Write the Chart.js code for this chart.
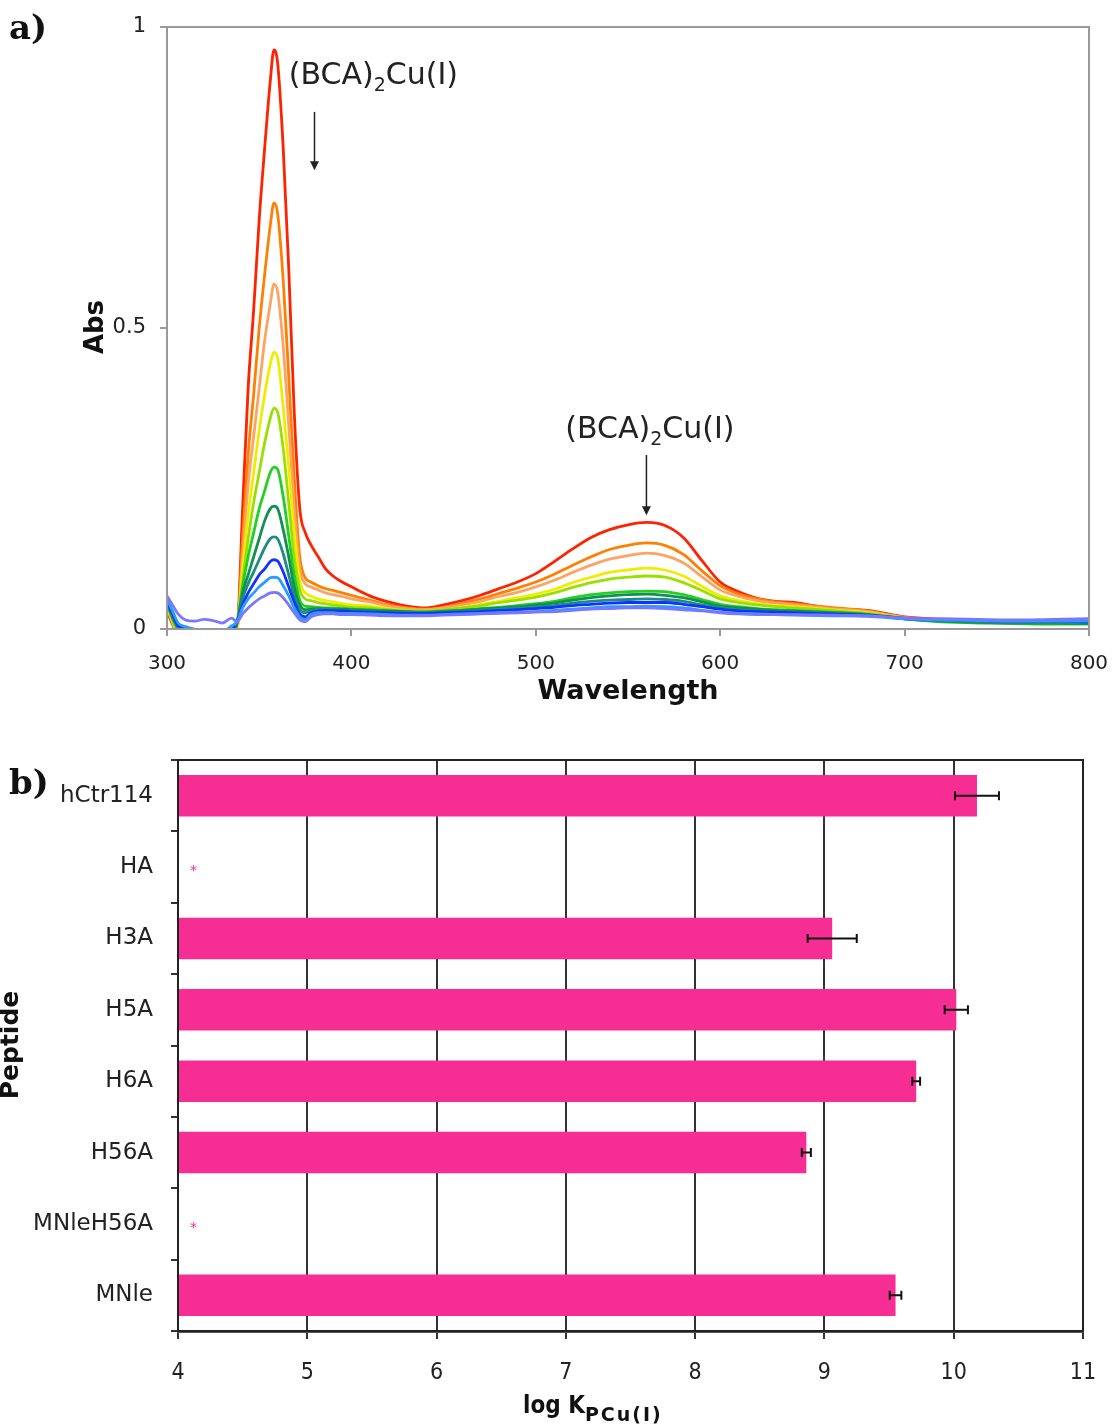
<!DOCTYPE html>
<html>
<head>
<meta charset="utf-8">
<script src="https://cdn.jsdelivr.net/npm/chart.js@4.4.1/dist/chart.umd.min.js"></script>
<style>
  body { margin: 0; width: 1113px; height: 1427px; position: relative; background: #fff; overflow: hidden; font-family: "DejaVu Sans", sans-serif; color: #111; }
  .box { position: absolute; left: 0; width: 1113px; }
  .panel { position: absolute; font: bold 34px "DejaVu Serif", serif; }
  .title { position: absolute; font-weight: bold; white-space: nowrap; }
  .rot { width: 240px; text-align: center; transform: rotate(-90deg); }
</style>
</head>
<body>
<div class="box" style="top:0; height:710px"><canvas id="spectra"></canvas></div>
<div class="box" style="top:720px; height:707px"><canvas id="bars"></canvas></div>

<div class="panel" style="left:9px; top:7px">a)</div>
<div class="panel" style="left:9px; top:762px">b)</div>
<div class="title rot" style="left:-26px; top:312px; font-size:26px; line-height:30px">Abs</div>
<div class="title" style="left:0; width:1256px; text-align:center; top:674px; font-size:27px">Wavelength</div>
<div class="title rot" style="left:-110px; top:1030px; font-size:25px; line-height:30px">Peptide</div>
<div class="title" style="left:523px; top:1391px; font-size:24px; font-family:'DejaVu Sans Condensed','DejaVu Sans',sans-serif">log K<sub style="font-size:19px; font-family:'DejaVu Sans',sans-serif; position:relative; top:2px; letter-spacing:2px">PCu(I)</sub></div>

<script>
// ---- a) absorbance spectra ----
const wavelengths = [300, 303, 306, 310, 315, 320, 325, 330, 335,
  338, 341, 344, 347, 350, 353, 356, 358,
  360, 363, 366, 369, 372, 375, 378, 382, 386, 390, 395, 400,
  410, 420, 430, 440, 450, 460, 470, 480, 490, 500, 510, 520, 530, 540, 550, 560, 570, 580, 590, 600, 610, 620, 630, 640,
  660, 680, 700, 720, 740, 760, 780, 800];

const absRed = [0.030, 0.008, -0.010, -0.010, -0.010, -0.010, -0.010, -0.010, -0.010,
  0.000, 0.200, 0.400, 0.530, 0.680, 0.800, 0.910, 0.962,
  0.940, 0.800, 0.600, 0.360, 0.200, 0.160, 0.140, 0.120, 0.100, 0.088, 0.078, 0.070,
  0.055, 0.045, 0.038, 0.035, 0.040, 0.047, 0.056, 0.067, 0.078, 0.092, 0.112, 0.133, 0.152, 0.165, 0.173, 0.177, 0.172, 0.152, 0.114, 0.078, 0.062, 0.051, 0.046, 0.044,
  0.034, 0.031, 0.020, 0.016, 0.014, 0.012, 0.012, 0.011];
const absOrange = [0.035, 0.010, -0.010, -0.010, -0.010, -0.010, -0.010, -0.010, -0.010,
  0.000, 0.150, 0.290, 0.390, 0.500, 0.590, 0.670, 0.708,
  0.690, 0.580, 0.420, 0.250, 0.120, 0.085, 0.078, 0.072, 0.067, 0.064, 0.060, 0.056,
  0.048, 0.040, 0.035, 0.033, 0.036, 0.043, 0.050, 0.059, 0.068, 0.078, 0.091, 0.106, 0.120, 0.132, 0.139, 0.143, 0.139, 0.124, 0.097, 0.072, 0.058, 0.050, 0.045, 0.042,
  0.036, 0.030, 0.019, 0.015, 0.013, 0.012, 0.011, 0.011];
const absSalmon = [0.035, 0.012, -0.010, -0.010, -0.010, -0.010, -0.010, -0.010, -0.010,
  0.000, 0.120, 0.240, 0.320, 0.400, 0.480, 0.540, 0.573,
  0.560, 0.470, 0.340, 0.200, 0.100, 0.075, 0.070, 0.065, 0.060, 0.057, 0.054, 0.050,
  0.045, 0.038, 0.034, 0.032, 0.035, 0.040, 0.046, 0.054, 0.061, 0.070, 0.081, 0.094, 0.106, 0.116, 0.122, 0.126, 0.122, 0.110, 0.087, 0.065, 0.054, 0.047, 0.043, 0.040,
  0.034, 0.029, 0.019, 0.015, 0.013, 0.012, 0.011, 0.010];
const absYellow = [0.038, 0.013, -0.005, -0.010, -0.010, -0.010, -0.010, -0.010, -0.010,
  0.000, 0.100, 0.190, 0.260, 0.330, 0.390, 0.440, 0.460,
  0.450, 0.370, 0.270, 0.160, 0.080, 0.060, 0.055, 0.050, 0.047, 0.045, 0.042, 0.040,
  0.038, 0.034, 0.031, 0.030, 0.032, 0.036, 0.041, 0.046, 0.052, 0.058, 0.066, 0.077, 0.086, 0.094, 0.098, 0.101, 0.098, 0.088, 0.071, 0.055, 0.047, 0.042, 0.039, 0.037,
  0.032, 0.027, 0.018, 0.014, 0.012, 0.011, 0.010, 0.010];
const absLime = [0.040, 0.015, -0.005, -0.010, -0.010, -0.010, -0.010, -0.010, -0.010,
  0.010, 0.080, 0.150, 0.210, 0.260, 0.310, 0.350, 0.367,
  0.360, 0.300, 0.210, 0.120, 0.065, 0.050, 0.047, 0.044, 0.042, 0.040, 0.038, 0.036,
  0.035, 0.032, 0.030, 0.030, 0.032, 0.035, 0.039, 0.044, 0.048, 0.053, 0.060, 0.069, 0.077, 0.083, 0.086, 0.088, 0.086, 0.077, 0.064, 0.050, 0.044, 0.040, 0.037, 0.035,
  0.031, 0.026, 0.018, 0.013, 0.011, 0.010, 0.009, 0.009];
const absGreen = [0.042, 0.018, 0.000, -0.005, -0.010, -0.010, -0.010, -0.010, -0.010,
  0.010, 0.070, 0.120, 0.160, 0.200, 0.230, 0.260, 0.269,
  0.265, 0.220, 0.155, 0.090, 0.048, 0.038, 0.037, 0.036, 0.035, 0.035, 0.034, 0.033,
  0.032, 0.030, 0.029, 0.028, 0.030, 0.031, 0.034, 0.036, 0.039, 0.042, 0.046, 0.052, 0.057, 0.060, 0.062, 0.063, 0.062, 0.057, 0.049, 0.041, 0.037, 0.034, 0.032, 0.031,
  0.028, 0.024, 0.017, 0.012, 0.010, 0.009, 0.008, 0.008];
const absDarkGreen = [0.044, 0.020, 0.002, -0.005, -0.010, -0.010, -0.010, -0.010, -0.010,
  0.010, 0.060, 0.090, 0.120, 0.150, 0.180, 0.200, 0.204,
  0.200, 0.165, 0.120, 0.070, 0.040, 0.032, 0.033, 0.034, 0.034, 0.033, 0.033, 0.032,
  0.031, 0.030, 0.029, 0.028, 0.029, 0.031, 0.033, 0.035, 0.037, 0.040, 0.043, 0.048, 0.052, 0.055, 0.057, 0.058, 0.056, 0.052, 0.045, 0.038, 0.035, 0.033, 0.031, 0.030,
  0.027, 0.024, 0.017, 0.013, 0.011, 0.010, 0.010, 0.009];
const absTeal = [0.046, 0.022, 0.004, -0.003, -0.008, -0.010, -0.010, -0.010, -0.008,
  0.010, 0.050, 0.075, 0.095, 0.115, 0.135, 0.150, 0.153,
  0.150, 0.125, 0.090, 0.055, 0.032, 0.027, 0.030, 0.032, 0.032, 0.031, 0.031, 0.030,
  0.029, 0.028, 0.027, 0.027, 0.028, 0.029, 0.031, 0.033, 0.035, 0.037, 0.039, 0.043, 0.046, 0.048, 0.049, 0.050, 0.049, 0.046, 0.040, 0.035, 0.032, 0.030, 0.029, 0.028,
  0.026, 0.023, 0.017, 0.014, 0.012, 0.011, 0.011, 0.010];
const absBlue = [0.048, 0.025, 0.006, 0.000, -0.005, -0.008, -0.008, -0.008, -0.002,
  0.012, 0.040, 0.060, 0.075, 0.090, 0.100, 0.112, 0.115,
  0.113, 0.095, 0.070, 0.045, 0.025, 0.020, 0.027, 0.030, 0.031, 0.030, 0.030, 0.029,
  0.028, 0.027, 0.026, 0.026, 0.027, 0.028, 0.029, 0.031, 0.032, 0.034, 0.036, 0.039, 0.041, 0.043, 0.044, 0.044, 0.044, 0.041, 0.037, 0.033, 0.030, 0.029, 0.028, 0.027,
  0.025, 0.023, 0.018, 0.016, 0.014, 0.013, 0.013, 0.012];
const absSky = [0.050, 0.030, 0.010, 0.004, 0.000, -0.002, -0.004, -0.004, 0.005,
  0.012, 0.035, 0.050, 0.060, 0.070, 0.078, 0.085, 0.086,
  0.085, 0.072, 0.055, 0.035, 0.020, 0.016, 0.024, 0.027, 0.027, 0.027, 0.026, 0.026,
  0.025, 0.024, 0.023, 0.023, 0.024, 0.025, 0.026, 0.027, 0.028, 0.029, 0.031, 0.033, 0.035, 0.037, 0.037, 0.038, 0.037, 0.035, 0.031, 0.028, 0.026, 0.025, 0.024, 0.023,
  0.022, 0.021, 0.017, 0.015, 0.014, 0.013, 0.013, 0.013];
const absLavender = [0.055, 0.040, 0.025, 0.015, 0.013, 0.016, 0.014, 0.010, 0.018,
  0.012, 0.025, 0.035, 0.043, 0.050, 0.055, 0.060, 0.061,
  0.060, 0.052, 0.040, 0.027, 0.015, 0.012, 0.020, 0.024, 0.025, 0.025, 0.024, 0.024,
  0.023, 0.022, 0.022, 0.022, 0.023, 0.024, 0.025, 0.026, 0.027, 0.028, 0.029, 0.031, 0.033, 0.034, 0.035, 0.035, 0.034, 0.032, 0.030, 0.027, 0.025, 0.024, 0.024, 0.024,
  0.023, 0.022, 0.018, 0.017, 0.016, 0.015, 0.016, 0.017];

const spectra = [absRed, absOrange, absSalmon, absYellow, absLime, absGreen,
  absDarkGreen, absTeal, absBlue, absSky, absLavender];
const spectraColors = ['#ff2200', '#ff7f00', '#fba466', '#f0ec00', '#99e000', '#22d022',
  '#119050', '#1c8c85', '#1133ff', '#2a9cff', '#7878ff'];

const wlTicks = [300, 400, 500, 600, 700, 800];
const absTicks = [0, 0.5, 1];

// ---- b) log K per peptide ----
const peptides = ['hCtr114', 'HA', 'H3A', 'H5A', 'H6A', 'H56A', 'MNleH56A', 'MNle'];
const logK = [10.18, null, 9.06, 10.02, 9.71, 8.86, null, 9.55];
const logKErr = [0.17, null, 0.19, 0.09, 0.03, 0.035, null, 0.045];
const logKTicks = [4, 5, 6, 7, 8, 9, 10, 11];

Chart.defaults.font.family = "'DejaVu Sans', sans-serif";
Chart.defaults.color = '#222';

// box round the plot area
const frame = {
  id: 'frame',
  afterDraw(chart, args, opts) {
    const a = chart.chartArea, ctx = chart.ctx;
    ctx.save();
    ctx.strokeStyle = opts.color;
    ctx.lineWidth = opts.width;
    ctx.strokeRect(a.left, a.top, a.right - a.left, a.bottom - a.top);
    ctx.restore();
  }
};

function drawLabel(ctx, x, y) {
  // "(BCA)2Cu(I)" with a subscript 2, x = left edge, y = middle
  ctx.font = "30px 'DejaVu Sans'";
  ctx.textBaseline = 'middle';
  ctx.textAlign = 'left';
  ctx.fillStyle = '#222';
  ctx.fillText('(BCA)', x, y);
  let w = ctx.measureText('(BCA)').width;
  ctx.font = "19px 'DejaVu Sans'";
  ctx.fillText('2', x + w, y + 10);
  w += ctx.measureText('2').width;
  ctx.font = "30px 'DejaVu Sans'";
  ctx.fillText('Cu(I)', x + w, y);
}

function drawArrow(ctx, x, y1, y2) {
  ctx.strokeStyle = '#222';
  ctx.fillStyle = '#222';
  ctx.lineWidth = 1.5;
  ctx.beginPath();
  ctx.moveTo(x, y1);
  ctx.lineTo(x, y2 - 8);
  ctx.stroke();
  ctx.beginPath();
  ctx.moveTo(x - 4.5, y2 - 9);
  ctx.lineTo(x + 4.5, y2 - 9);
  ctx.lineTo(x, y2);
  ctx.closePath();
  ctx.fill();
}

const notes = {
  id: 'notes',
  afterDatasetsDraw(chart) {
    const x = chart.scales.x, y = chart.scales.y, ctx = chart.ctx;
    ctx.save();
    drawLabel(ctx, x.getPixelForValue(366), y.getPixelForValue(0.919));
    drawArrow(ctx, x.getPixelForValue(380), y.getPixelForValue(0.859), y.getPixelForValue(0.762));
    drawLabel(ctx, x.getPixelForValue(516), y.getPixelForValue(0.331));
    drawArrow(ctx, x.getPixelForValue(560), y.getPixelForValue(0.289), y.getPixelForValue(0.189));
    ctx.restore();
  }
};

new Chart(document.getElementById('spectra'), {
  type: 'line',
  data: {
    datasets: spectra.map((vals, i) => ({
      data: wavelengths.map((w, j) => ({ x: w, y: vals[j] })),
      borderColor: spectraColors[i],
      borderWidth: 2.8,
      pointRadius: 0,
      cubicInterpolationMode: 'monotone',
      fill: false,
      order: spectra.length - i
    }))
  },
  options: {
    responsive: true,
    maintainAspectRatio: false,
    animation: false,
    events: [],
    layout: { padding: { top: 27, right: 24, left: 0, bottom: 0 } },
    plugins: { legend: { display: false }, tooltip: { enabled: false }, frame: { color: '#999', width: 2 } },
    scales: {
      x: {
        type: 'linear', min: 300, max: 800,
        afterBuildTicks: s => { s.ticks = wlTicks.map(v => ({ value: v })); },
        afterFit: s => { s.height = 81; s.paddingLeft = 0; s.paddingRight = 0; },
        ticks: { font: { size: 20 }, padding: 16, maxRotation: 0 },
        grid: { drawOnChartArea: false, tickLength: 7, color: '#999', lineWidth: 2 },
        border: { color: '#999', width: 2 }
      },
      y: {
        min: 0, max: 1,
        afterBuildTicks: s => { s.ticks = absTicks.map(v => ({ value: v })); },
        afterFit: s => { s.width = 167; s.paddingTop = 0; s.paddingBottom = 0; },
        ticks: { font: { size: 21 }, padding: 14, callback: v => String(v) },
        grid: { drawOnChartArea: false, tickLength: 7, color: '#999', lineWidth: 2 },
        border: { color: '#999', width: 2 }
      }
    }
  },
  plugins: [frame, notes]
});

// error bars and the "*" for peptides with no value
const errBars = {
  id: 'errBars',
  afterDatasetsDraw(chart) {
    const x = chart.scales.x, y = chart.scales.y, ctx = chart.ctx;
    ctx.save();
    ctx.strokeStyle = '#111';
    ctx.lineWidth = 2;
    logK.forEach((v, i) => {
      const py = y.getPixelForValue(i);
      if (v === null) {
        ctx.fillStyle = '#f62e93';
        ctx.font = "14px 'DejaVu Sans'";
        ctx.textAlign = 'center';
        ctx.textBaseline = 'middle';
        ctx.fillText('*', x.getPixelForValue(4.12), py + 4);
        return;
      }
      const lo = x.getPixelForValue(v - logKErr[i]);
      const hi = x.getPixelForValue(v + logKErr[i]);
      ctx.beginPath();
      ctx.moveTo(lo, py); ctx.lineTo(hi, py);
      ctx.moveTo(lo, py - 4.5); ctx.lineTo(lo, py + 4.5);
      ctx.moveTo(hi, py - 4.5); ctx.lineTo(hi, py + 4.5);
      ctx.stroke();
    });
    ctx.restore();
  }
};

new Chart(document.getElementById('bars'), {
  type: 'bar',
  data: {
    labels: peptides,
    datasets: [{
      data: logK,
      backgroundColor: '#f62e93',
      borderWidth: 0,
      categoryPercentage: 1,
      barPercentage: 0.58
    }]
  },
  options: {
    indexAxis: 'y',
    responsive: true,
    maintainAspectRatio: false,
    animation: false,
    events: [],
    layout: { padding: { top: 40, right: 30, left: 0, bottom: 0 } },
    plugins: { legend: { display: false }, tooltip: { enabled: false }, frame: { color: '#222', width: 2 } },
    scales: {
      x: {
        min: 4, max: 11,
        afterBuildTicks: s => { s.ticks = logKTicks.map(v => ({ value: v })); },
        afterFit: s => { s.height = 96; s.paddingLeft = 0; s.paddingRight = 0; },
        ticks: { font: { size: 23, family: "'DejaVu Sans Condensed', 'DejaVu Sans', sans-serif" }, padding: 20, maxRotation: 0 },
        grid: { color: '#333', lineWidth: 2, tickLength: 8, tickColor: '#333' },
        border: { color: '#555', width: 3 }
      },
      y: {
        afterFit: s => { s.width = 178; s.paddingTop = 0; s.paddingBottom = 0; },
        ticks: { font: { size: 23 }, padding: 18, color: '#222' },
        grid: { drawOnChartArea: false, offset: true, tickLength: 7, color: '#333', lineWidth: 2 },
        border: { color: '#222', width: 2 }
      }
    }
  },
  plugins: [frame, errBars]
});
</script>
</body>
</html>
